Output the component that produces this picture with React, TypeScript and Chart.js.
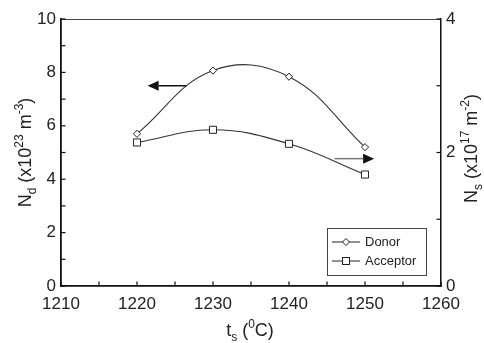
import React, { useEffect, useRef } from "react";
import { Chart, registerables } from "chart.js";

Chart.register(...registerables);

// ---- data ----
const temperatures = [1220, 1230, 1240, 1250];
const donorNd = [5.7, 8.07, 7.84, 5.2];
const acceptorNs = [2.15, 2.34, 2.13, 1.67];
const seriesLabels = ["Donor", "Acceptor"];
const xRange = [1210, 1260];
const leftRange = [0, 10];
const rightRange = [0, 4];
// arrow annotations in data coordinates (left axis units)
const leftArrow = { from: 1226.5, to: 1221.4, y: 7.5 };
const rightArrow = { from: 1246.0, to: 1251.2, y: 4.77 };

const FONT = "'Liberation Sans', Arial, Helvetica, sans-serif";

type Seg = { t: string; k?: "sub" | "sup" };
const leftTitle: Seg[] = [
  { t: "N" }, { t: "d", k: "sub" }, { t: " (x10" }, { t: "23", k: "sup" },
  { t: " m" }, { t: "-3", k: "sup" }, { t: ")" },
];
const rightTitle: Seg[] = [
  { t: "N" }, { t: "s", k: "sub" }, { t: " (x10" }, { t: "17", k: "sup" },
  { t: " m" }, { t: "-2", k: "sup" }, { t: ")" },
];
const xTitle: Seg[] = [
  { t: "t" }, { t: "s", k: "sub" }, { t: " (" }, { t: "0", k: "sup" }, { t: "C)" },
];

function drawRich(ctx: CanvasRenderingContext2D, segs: Seg[], size: number) {
  const small = Math.round(size * 0.68);
  const fontFor = (s: Seg) => `${s.k ? small : size}px ${FONT}`;
  let total = 0;
  const widths = segs.map((s) => {
    ctx.font = fontFor(s);
    const w = ctx.measureText(s.t).width;
    total += w;
    return w;
  });
  let x = -total / 2;
  ctx.textAlign = "left";
  ctx.textBaseline = "alphabetic";
  segs.forEach((s, i) => {
    ctx.font = fontFor(s);
    const dy = s.k === "sub" ? size * 0.25 : s.k === "sup" ? -size * 0.45 : 0;
    ctx.fillText(s.t, x, dy);
    x += widths[i];
  });
}

function drawArrow(ctx: CanvasRenderingContext2D, x0: number, x1: number, y: number, lineColor: string) {
  const dir = Math.sign(x1 - x0);
  const headLen = 11;
  const headHalf = 5;
  ctx.save();
  ctx.strokeStyle = lineColor;
  ctx.lineWidth = 1.5;
  ctx.beginPath();
  ctx.moveTo(x0, y);
  ctx.lineTo(x1 - dir * headLen, y);
  ctx.stroke();
  ctx.fillStyle = "#111";
  ctx.beginPath();
  ctx.moveTo(x1, y);
  ctx.lineTo(x1 - dir * headLen, y - headHalf);
  ctx.lineTo(x1 - dir * headLen, y + headHalf);
  ctx.closePath();
  ctx.fill();
  ctx.restore();
}

const decorPlugin = {
  id: "decor",
  afterDraw(chart: any) {
    const ctx: CanvasRenderingContext2D = chart.ctx;
    const { left, right, top, bottom } = chart.chartArea;
    const xs = chart.scales.x;
    const yl = chart.scales.y;
    const yr = chart.scales.y1;
    ctx.save();
    // top frame line
    ctx.strokeStyle = "#444";
    ctx.lineWidth = 1;
    ctx.beginPath();
    ctx.moveTo(left, top + 0.5);
    ctx.lineTo(right, top + 0.5);
    ctx.stroke();

    // inward ticks
    ctx.strokeStyle = "#111";
    ctx.lineWidth = 1.2;
    const tickLen = 4.5;
    for (let v = xRange[0]; v <= xRange[1]; v += 5) {
      const px = xs.getPixelForValue(v);
      ctx.beginPath();
      ctx.moveTo(px, bottom);
      ctx.lineTo(px, bottom - tickLen);
      ctx.stroke();
    }
    for (let v = leftRange[0]; v <= leftRange[1]; v += 1) {
      const py = yl.getPixelForValue(v);
      ctx.beginPath();
      ctx.moveTo(left, py);
      ctx.lineTo(left + tickLen, py);
      ctx.stroke();
    }
    for (let v = rightRange[0]; v <= rightRange[1]; v += 1) {
      const py = yr.getPixelForValue(v);
      ctx.beginPath();
      ctx.moveTo(right, py);
      ctx.lineTo(right - tickLen, py);
      ctx.stroke();
    }

    // arrows
    drawArrow(ctx, xs.getPixelForValue(leftArrow.from), xs.getPixelForValue(leftArrow.to), yl.getPixelForValue(leftArrow.y), "#111");
    drawArrow(ctx, xs.getPixelForValue(rightArrow.from), xs.getPixelForValue(rightArrow.to), yl.getPixelForValue(rightArrow.y), "#777");

    // axis titles
    ctx.fillStyle = "#222";
    ctx.save();
    ctx.translate(31, (top + bottom) / 2);
    ctx.rotate(-Math.PI / 2);
    drawRich(ctx, leftTitle, 18);
    ctx.restore();
    ctx.save();
    ctx.translate(477, (top + bottom) / 2 - 4);
    ctx.rotate(-Math.PI / 2);
    drawRich(ctx, rightTitle, 18);
    ctx.restore();
    ctx.save();
    ctx.translate((left + right) / 2 - 1, 336);
    drawRich(ctx, xTitle, 18);
    ctx.restore();

    // legend box
    const bx = 327, by = 228, bw = 99, bh = 47;
    ctx.fillStyle = "#fff";
    ctx.fillRect(bx, by, bw, bh);
    ctx.strokeStyle = "#444";
    ctx.lineWidth = 1;
    ctx.strokeRect(bx + 0.5, by + 0.5, bw, bh);
    const rows = [
      { label: seriesLabels[0], style: "rectRot" },
      { label: seriesLabels[1], style: "rect" },
    ];
    rows.forEach((row, i) => {
      const ly = by + 14 + i * 19;
      ctx.strokeStyle = "#222";
      ctx.lineWidth = 1;
      ctx.beginPath();
      ctx.moveTo(bx + 5, ly);
      ctx.lineTo(bx + 33, ly);
      ctx.stroke();
      ctx.fillStyle = "#fff";
      ctx.strokeStyle = "#222";
      if (row.style === "rect") {
        ctx.fillRect(bx + 15.5, ly - 3.5, 7, 7);
        ctx.strokeRect(bx + 15.5, ly - 3.5, 7, 7);
      } else {
        ctx.beginPath();
        ctx.moveTo(bx + 19, ly - 3.5);
        ctx.lineTo(bx + 22.5, ly);
        ctx.lineTo(bx + 19, ly + 3.5);
        ctx.lineTo(bx + 15.5, ly);
        ctx.closePath();
        ctx.fill();
        ctx.stroke();
      }
      ctx.fillStyle = "#222";
      ctx.font = `13px ${FONT}`;
      ctx.textAlign = "left";
      ctx.textBaseline = "middle";
      ctx.fillText(row.label, bx + 38, ly + 0.5);
    });
    ctx.restore();
  },
};

export default function App() {
  const ref = useRef<HTMLCanvasElement | null>(null);
  useEffect(() => {
    if (!ref.current) return;
    const tickFont = { family: FONT, size: 17 };
    const chart = new Chart(ref.current, {
      type: "line",
      data: {
        datasets: [
          {
            label: seriesLabels[0],
            data: temperatures.map((t, i) => ({ x: t, y: donorNd[i] })),
            yAxisID: "y",
            borderColor: "#333",
            borderWidth: 1.1,
            tension: 0.4,
            pointStyle: "rectRot",
            pointRadius: 3.6,
            pointBackgroundColor: "#fff",
            pointBorderColor: "#222",
            pointBorderWidth: 1,
            fill: false,
          },
          {
            label: seriesLabels[1],
            data: temperatures.map((t, i) => ({ x: t, y: acceptorNs[i] })),
            yAxisID: "y1",
            borderColor: "#333",
            borderWidth: 1.1,
            tension: 0.4,
            pointStyle: "rect",
            pointRadius: 5,
            pointBackgroundColor: "#fff",
            pointBorderColor: "#222",
            pointBorderWidth: 1,
            fill: false,
          },
        ],
      },
      options: {
        animation: false,
        responsive: false,
        maintainAspectRatio: false,
        layout: { padding: { top: 19, left: 0, right: 0, bottom: 0 } },
        plugins: { legend: { display: false }, tooltip: { enabled: false } },
        scales: {
          x: {
            type: "linear",
            min: xRange[0],
            max: xRange[1],
            grid: { display: false, drawTicks: false },
            border: { display: true, color: "#111", width: 1.8 },
            ticks: { stepSize: 10, autoSkip: false, maxRotation: 0, padding: 8, color: "#222", font: tickFont, callback: (v: any) => String(v) },
            afterFit: (s: any) => { s.height = 57; },
          },
          y: {
            position: "left",
            min: leftRange[0],
            max: leftRange[1],
            grid: { display: false, drawTicks: false },
            border: { display: true, color: "#111", width: 1.8 },
            ticks: { stepSize: 2, padding: 5, color: "#222", font: tickFont },
            afterFit: (s: any) => { s.width = 61; },
          },
          y1: {
            position: "right",
            min: rightRange[0],
            max: rightRange[1],
            grid: { display: false, drawTicks: false },
            border: { display: true, color: "#111", width: 1.5 },
            ticks: { stepSize: 2, padding: 5, color: "#222", font: tickFont },
            afterFit: (s: any) => { s.width = 43; },
          },
        },
      },
      plugins: [decorPlugin],
    });
    return () => chart.destroy();
  }, []);
  return (
    <div style={{ position: "fixed", left: 0, top: 0, width: 484, height: 343, background: "#fff" }}>
      <canvas ref={ref} width={484} height={343} style={{ width: 484, height: 343 }} />
    </div>
  );
}
